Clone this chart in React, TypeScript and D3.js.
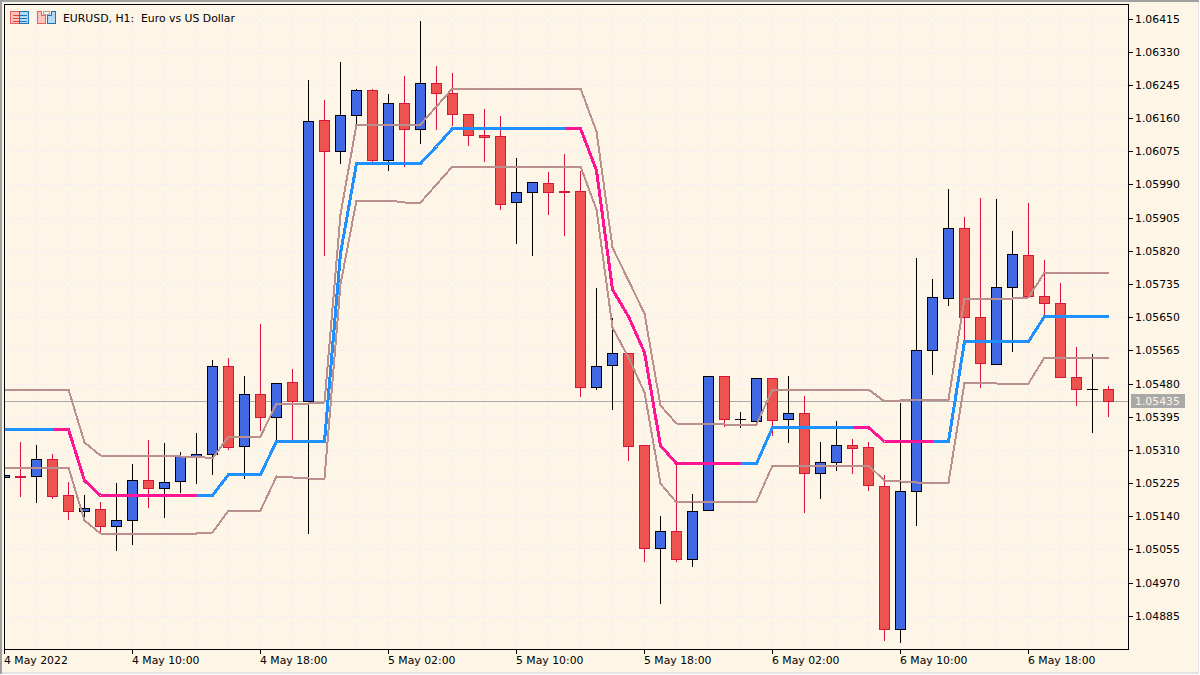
import * as d3 from "d3";

// bar 0 is 4 May 2022 02:00, one bar per hour
const opens = [
  1.0524, 1.05243, 1.05242, 1.05287, 1.05195, 1.05154, 1.05159, 1.05115, 1.05131, 1.05233,
  1.05213, 1.05231, 1.05292, 1.053, 1.05525, 1.05319, 1.05454, 1.05395, 1.05484, 1.05436,
  1.06155, 1.06076, 1.06168, 1.06232, 1.06053, 1.06199, 1.06132, 1.0625, 1.06225, 1.06171,
  1.06117, 1.06115, 1.05945, 1.05971, 1.05994, 1.05972, 1.05972, 1.0547, 1.05528, 1.05559,
  1.05323, 1.05059, 1.05103, 1.05031, 1.05156, 1.055, 1.0539, 1.05384, 1.05494, 1.0539,
  1.05405, 1.05251, 1.05279, 1.05323, 1.05318, 1.05218, 1.04851, 1.05205, 1.05566, 1.057,
  1.05879, 1.05651, 1.0553, 1.05728, 1.0581, 1.05705, 1.05687, 1.05497, 1.05466, 1.05466,
];
const highs = [
  1.05246, 1.05334, 1.05326, 1.05301, 1.05231, 1.05196, 1.05178, 1.05229, 1.05277, 1.05338,
  1.05331, 1.05306, 1.05357, 1.05544, 1.05549, 1.05503, 1.05636, 1.05482, 1.05521, 1.06261,
  1.0621, 1.06305, 1.06238, 1.06238, 1.06223, 1.06269, 1.06412, 1.06297, 1.06277, 1.06173,
  1.06187, 1.06168, 1.06061, 1.05999, 1.06025, 1.06071, 1.06028, 1.05726, 1.05651, 1.05562,
  1.05324, 1.05144, 1.05277, 1.052, 1.05502, 1.055, 1.0541, 1.05495, 1.05495, 1.05502,
  1.05451, 1.05334, 1.05387, 1.05341, 1.05333, 1.05249, 1.05432, 1.05803, 1.05751, 1.05982,
  1.05908, 1.05959, 1.05954, 1.05872, 1.05946, 1.05798, 1.05741, 1.05577, 1.05559, 1.05475,
];
const lows = [
  1.0524, 1.05191, 1.05176, 1.05186, 1.05132, 1.05137, 1.05103, 1.05053, 1.05068, 1.05163,
  1.05137, 1.05201, 1.05224, 1.05247, 1.05313, 1.05237, 1.0536, 1.05335, 1.05335, 1.05096,
  1.0581, 1.06044, 1.06143, 1.06048, 1.06028, 1.06037, 1.06095, 1.06133, 1.06143, 1.0609,
  1.06051, 1.05928, 1.05839, 1.05809, 1.05914, 1.0586, 1.05447, 1.05467, 1.05414, 1.05283,
  1.05025, 1.04917, 1.05025, 1.05012, 1.05156, 1.05371, 1.05368, 1.05381, 1.05348, 1.0533,
  1.0515, 1.05186, 1.05258, 1.0525, 1.05208, 1.04822, 1.04817, 1.05117, 1.05504, 1.0568,
  1.05588, 1.0547, 1.0553, 1.05563, 1.05704, 1.05657, 1.05497, 1.05426, 1.05355, 1.05396,
];
const closes = [
  1.05246, 1.0524, 1.05287, 1.05191, 1.05154, 1.05162, 1.05114, 1.05131, 1.05233, 1.05213,
  1.05228, 1.05294, 1.05299, 1.05525, 1.05317, 1.05454, 1.05395, 1.05482, 1.05436, 1.06152,
  1.06076, 1.06168, 1.06232, 1.06053, 1.06199, 1.06132, 1.0625, 1.06225, 1.06171, 1.06117,
  1.06112, 1.0594, 1.05971, 1.05997, 1.05971, 1.0597, 1.0547, 1.05525, 1.05559, 1.0532,
  1.05059, 1.05102, 1.05031, 1.05154, 1.055, 1.0539, 1.0539, 1.05494, 1.05387, 1.05405,
  1.05251, 1.05279, 1.05323, 1.05315, 1.0522, 1.04851, 1.05205, 1.05566, 1.05702, 1.05879,
  1.05651, 1.05533, 1.05728, 1.05812, 1.05704, 1.05687, 1.05497, 1.05466, 1.05466, 1.05435,
];

const midLine = [
  1.05364, 1.05364, 1.05364, 1.05364, 1.05364, 1.05232, 1.05195, 1.05195, 1.05195, 1.05195,
  1.05195, 1.05195, 1.05195, 1.05195, 1.05249, 1.05249, 1.05249, 1.05333, 1.05333, 1.05333,
  1.05333, 1.05815, 1.06045, 1.06045, 1.06045, 1.06045, 1.06045, 1.06088, 1.06135, 1.06135,
  1.06135, 1.06135, 1.06135, 1.06135, 1.06135, 1.06135, 1.06135, 1.06028, 1.05723, 1.05652,
  1.05562, 1.05323, 1.05277, 1.05277, 1.05277, 1.05277, 1.05277, 1.05277, 1.05369, 1.05369,
  1.05369, 1.05369, 1.05369, 1.05369, 1.05369, 1.05333, 1.05333, 1.05333, 1.05333, 1.05333,
  1.05589, 1.05589, 1.05589, 1.05589, 1.05589, 1.05653, 1.05653, 1.05653, 1.05653, 1.05653,
];
const upperBand = [
  1.05467, 1.05467, 1.05467, 1.05467, 1.05467, 1.05331, 1.05296, 1.05296, 1.05296, 1.05296,
  1.05296, 1.05294, 1.05294, 1.0529, 1.05345, 1.05345, 1.05345, 1.0543, 1.0543, 1.0543,
  1.05432, 1.05913, 1.06144, 1.06144, 1.06144, 1.06144, 1.06146, 1.0619, 1.06236, 1.06236,
  1.06236, 1.06236, 1.06236, 1.06236, 1.06236, 1.06236, 1.06236, 1.06126, 1.05829, 1.05746,
  1.05661, 1.05424, 1.05378, 1.05378, 1.05378, 1.05376, 1.05376, 1.05376, 1.05467, 1.05467,
  1.05467, 1.05467, 1.05467, 1.05467, 1.05467, 1.05436, 1.05437, 1.0544, 1.0544, 1.0544,
  1.05698, 1.05698, 1.05699, 1.05699, 1.05702, 1.05765, 1.05765, 1.05765, 1.05765, 1.05765,
];
const lowerBand = [
  1.05265, 1.05265, 1.05265, 1.05265, 1.05265, 1.0513, 1.05096, 1.05096, 1.05096, 1.05096,
  1.05096, 1.05097, 1.05097, 1.05099, 1.05155, 1.05155, 1.05155, 1.05242, 1.05241, 1.05237,
  1.05237, 1.05734, 1.05949, 1.05949, 1.05949, 1.05946, 1.05946, 1.05992, 1.06037, 1.06037,
  1.06037, 1.06037, 1.06037, 1.06037, 1.06037, 1.06037, 1.06037, 1.05927, 1.05625, 1.05549,
  1.05459, 1.05224, 1.05176, 1.05178, 1.05178, 1.05178, 1.05178, 1.05178, 1.0527, 1.0527,
  1.0527, 1.0527, 1.0527, 1.0527, 1.0527, 1.05232, 1.05231, 1.05227, 1.05227, 1.05227,
  1.05483, 1.05483, 1.05482, 1.05481, 1.05481, 1.05547, 1.05547, 1.05547, 1.05547, 1.05547,
];
// bar ranges where the middle line is falling
const fallingRuns = [[3, 12], [35, 46], [53, 58]];

const priceTicks = [
  1.06415, 1.0633, 1.06245, 1.0616, 1.06075, 1.0599, 1.05905, 1.0582, 1.05735, 1.0565,
  1.05565, 1.0548, 1.05395, 1.0531, 1.05225, 1.0514, 1.05055, 1.0497, 1.04885,
];
const timeTicks = [
  "4 May 2022", "4 May 10:00", "4 May 18:00", "5 May 02:00", "5 May 10:00",
  "5 May 18:00", "6 May 02:00", "6 May 10:00", "6 May 18:00",
];
const lastPrice = 1.05435;
const title = "EURUSD, H1:  Euro vs US Dollar";

const FONT = "'DejaVu Sans', sans-serif";
const FONT_SIZE = 10.85;
const BG = "#FDF5E6";
const GRID = "#F3EDF3";
const UP = "#4169E1";
const DOWN = "#EF5350";
const DOWN_EDGE = "#DC143C";
const BAND = "#BC8F8F";
const PLOT = { left: 4, right: 1128, top: 4, bottom: 649 };

const x = d3.scaleLinear().domain([0, 69]).range([4.5, 1108.5]);
const y = d3.scaleLinear().domain([1.06415, 1.04885]).range([19, 616.3]);
const py = (v: number) => Math.floor(y(v)) + 0.5;

const bars = d3.range(opens.length);
const lineOf = (values: number[]) =>
  d3
    .line<number>()
    .x((i) => x(i))
    .y((i) => py(values[i]))(bars) as string;
const midPart = ([a, b]: number[]) =>
  d3
    .line<number>()
    .x((i) => x(i))
    .y((i) => py(midLine[i]))(d3.range(a, b + 1)) as string;

function Candle({ i }: { i: number }) {
  const o = opens[i];
  const c = closes[i];
  const cx = x(i);
  const flat = o === c;
  const rising = c > o;
  const edge = flat || rising ? "#000" : DOWN_EDGE;
  const top = py(Math.max(o, c));
  const bottom = py(Math.min(o, c));
  return (
    <g stroke={edge} strokeWidth={1} shapeRendering="crispEdges">
      <line x1={cx} x2={cx} y1={py(highs[i])} y2={py(lows[i])} />
      {flat ? (
        <line x1={cx - 5.5} x2={cx + 5.5} y1={top} y2={top} />
      ) : (
        <rect x={cx - 5} y={top} width={10} height={bottom - top} fill={rising ? UP : DOWN} />
      )}
    </g>
  );
}

function Icons() {
  return (
    <g shapeRendering="crispEdges" strokeWidth={1} fill="none">
      <rect x={10.5} y={11.5} width={9} height={12} fill="#FBC4BE" stroke="#EE5F58" />
      <rect x={19.5} y={11.5} width={9} height={12} fill="#B4DAF5" stroke="#1F74B8" />
      <path d="M13 15.5h6M13 18.5h6M13 21.5h6" stroke="#E5403A" />
      <path d="M20 15.5h7M20 18.5h7M20 21.5h7" stroke="#1F74B8" />
      <path d="M37.5 11.5h4v4h4v8h-8z" fill="#FBC4BE" stroke="#EE5F58" />
      <path d="M47.5 23.5v-8h4v-4h4v12z" fill="#B4DAF5" stroke="#1F74B8" />
      <rect x={43.5} y={11.5} width={6} height={3} stroke="#A9A9A9" />
    </g>
  );
}

export default function App() {
  const clipId = "plot-clip";
  const { left, right, top, bottom } = PLOT;
  const gridXs = d3.range(0, opens.length, 2).map((i) => x(i));
  const timeXs = timeTicks.map((_, k) => x(k * 8));
  return (
    <svg
      width={1200}
      height={675}
      viewBox="0 0 1200 675"
      style={{ position: "fixed", left: 0, top: 0, display: "block" }}
    >
      <rect width={1200} height={675} fill="#fff" />
      <rect x={0} y={0} width={1199} height={674} fill="#E4E4E4" />
      <rect x={2} y={1} width={1196} height={671} fill={BG} />
      <path d="M0 0.5H1199M1 0V674" stroke="#A0A0A0" strokeWidth={2} fill="none" shapeRendering="crispEdges" />

      <defs>
        <clipPath id={clipId}>
          <rect x={left} y={top} width={right - left} height={bottom - top} />
        </clipPath>
      </defs>

      <g stroke={GRID} strokeWidth={1} strokeDasharray="3 3" shapeRendering="crispEdges">
        {gridXs.map((gx) => (
          <line key={gx} x1={gx} x2={gx} y1={top} y2={bottom} />
        ))}
        {priceTicks.map((t) => (
          <line key={t} x1={left} x2={right} y1={py(t)} y2={py(t)} />
        ))}
      </g>

      <line x1={left} x2={right} y1={py(lastPrice)} y2={py(lastPrice)} stroke="#A9A9A9" shapeRendering="crispEdges" />

      <g clipPath={`url(#${clipId})`}>
        {bars.map((i) => (
          <Candle key={i} i={i} />
        ))}
        <g fill="none" strokeLinejoin="round" shapeRendering="crispEdges">
          <path d={lineOf(upperBand)} stroke={BAND} strokeWidth={2} />
          <path d={lineOf(lowerBand)} stroke={BAND} strokeWidth={2} />
          <path d={lineOf(midLine)} stroke="#1E90FF" strokeWidth={3} />
          {fallingRuns.map((r) => (
            <path key={r[0]} d={midPart(r)} stroke="#FF1493" strokeWidth={3} />
          ))}
        </g>
      </g>

      <path
        d={`M${left + 0.5} ${top}V${bottom + 0.5}H${right + 0.5}V${top}H${left}`}
        stroke="#000"
        fill="none"
        shapeRendering="crispEdges"
      />

      <Icons />
      <text x={63} y={22} fontFamily={FONT} fontSize={FONT_SIZE} fill="#000">
        <tspan style={{ whiteSpace: "pre" }}>{title}</tspan>
      </text>

      <g fontFamily={FONT} fontSize={FONT_SIZE} fill="#000">
        {priceTicks.map((t) => (
          <g key={t}>
            <line x1={right} x2={right + 5} y1={py(t)} y2={py(t)} stroke="#000" shapeRendering="crispEdges" />
            <text x={1135} y={py(t) + 3.5}>
              {t.toFixed(5)}
            </text>
          </g>
        ))}
        {timeTicks.map((t, k) => (
          <g key={t}>
            <line x1={timeXs[k]} x2={timeXs[k]} y1={bottom} y2={bottom + 5} stroke="#000" shapeRendering="crispEdges" />
            <text x={timeXs[k] - 0.5} y={664}>
              {t}
            </text>
          </g>
        ))}
      </g>

      <rect x={1131} y={394} width={54} height={14} fill="#A9A9A9" />
      <text x={1135} y={py(lastPrice) + 3.5} fontFamily={FONT} fontSize={FONT_SIZE} fill="#FDF5E6">
        {lastPrice.toFixed(5)}
      </text>
    </svg>
  );
}
